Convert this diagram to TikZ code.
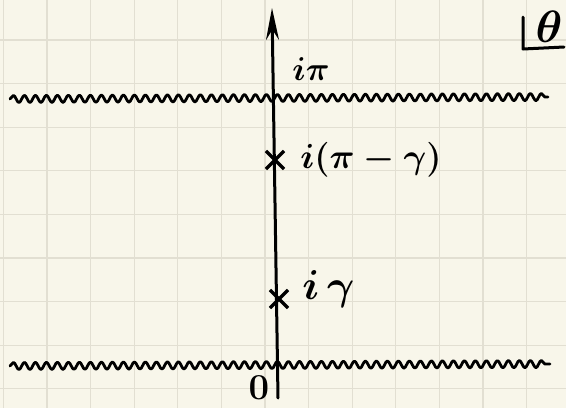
\documentclass[tikz,border=0pt]{standalone}
\usetikzlibrary{decorations.pathmorphing,shapes.misc,arrows.meta}
\definecolor{paper}{HTML}{F8F6EA}
\definecolor{gridc}{HTML}{E2DFD2}
\begin{document}
\begin{tikzpicture}[x=1pt,y=-1pt,
  ink/.style={line width=3pt, line cap=round, line join=round, black},
  wave/.style={ink, line width=2.8pt, decorate, decoration={snake, segment length=11pt, amplitude=3.6pt}},
  xmark/.style={cross out, draw, line width=3.2pt, minimum size=15pt, inner sep=0pt},
  lbl/.style={font=\Huge\boldmath, inner sep=0pt, scale=1.4}]
\fill[paper] (0,0) rectangle (566,408);
\useasboundingbox (0,0) rectangle (566,408);
\foreach \i in {0,...,12} \draw[gridc, line width=1.2pt] ({3.4+43.6*\i},0) -- ({3.4+43.6*\i},408);
\foreach \j in {0,...,8} \draw[gridc, line width=1.2pt] (0,{40+43.6*\j}) -- (566,{40+43.6*\j});
% wavy lines
\coordinate (ul) at (10,99);
\coordinate (ur) at (548,97);
\coordinate (ll) at (10,366);
\coordinate (lr) at (550,364);
\draw[wave] (ul) -- (ur);
\draw[wave] (ll) -- (lr);
% axis
\coordinate (o) at (278,398);
\coordinate (top) at (272,8);
\draw[ink, -{Stealth[length=32pt,width=13pt]}] (o) -- (top);
% poles
\node[xmark] (p1) at (275,160) {};
\node[xmark] (p2) at (279,299) {};
\node[lbl, anchor=west] (l1) at (300,160) {$i(\pi-\gamma)$};
\node[lbl, scale=1.2, anchor=west] (l2) at (302,289) {$i\,\gamma$};
\node[lbl, scale=0.95] (ipi) at (311,69) {$i\pi$};
\node[lbl, scale=1.05] (zero) at (259,388) {$0$};
% corner label
\node[lbl, scale=1.3] (theta) at (549,27) {$\theta$};
\draw[ink] (523,17) -- (523,49) -- (564,47);
\end{tikzpicture}
\end{document}
